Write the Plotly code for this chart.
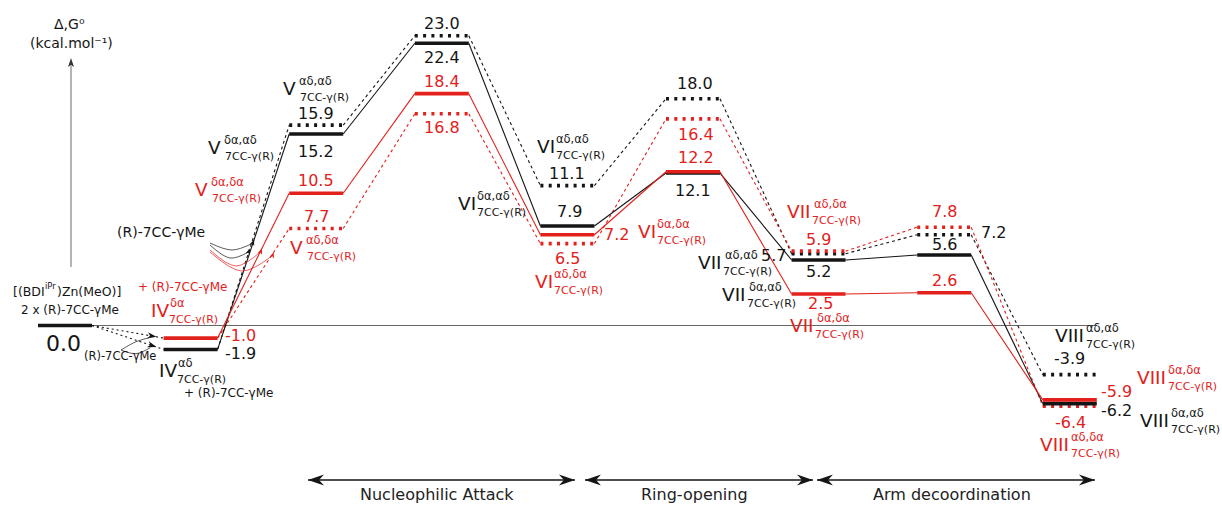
import math
import plotly.graph_objects as go

# ---------------- data (kcal/mol) ----------------
stage_names = ["start", "IV", "V", "TS-NA", "VI", "TS-RO", "VII", "TS-AD", "VIII"]
start_level = 0.0
black_solid = [-1.9, 15.2, 22.4, 7.9, 12.1, 5.2, 5.6, -6.2]
black_dotted = [-1.9, 15.9, 23.0, 11.1, 18.0, 5.7, 7.2, -3.9]
red_solid = [-1.0, 10.5, 18.4, 7.2, 12.2, 2.5, 2.6, -5.9]
red_dotted = [-1.0, 7.7, 16.8, 6.5, 16.4, 5.9, 7.8, -6.4]
phase_names = ["Nucleophilic Attack", "Ring-opening", "Arm decoordination"]

# ---------------- geometry / style ----------------
W, H = 1222, 505
X0, DX = 65.0, 125.6      # pixel centre of stage 0, pixels per stage
Y0, DY = 325.5, 12.6      # pixel row of 0 kcal/mol, pixels per kcal/mol
HWP = 27.0                # half width of a level bar (px)
HW = HWP / DX
BLACK = "#151515"
RED = "#e2211c"
FONT = "DejaVu Sans"


def X(px):
    return (px - X0) / DX


def Y(py):
    return (Y0 - py) / DY


def px_of(stage):
    return X0 + DX * stage


def py_of(e):
    return Y0 - DY * e


paths = {
    "black_dotted": (black_dotted, BLACK, True),
    "red_dotted": (red_dotted, RED, True),
    "black_solid": (black_solid, BLACK, False),
    "red_solid": (red_solid, RED, False),
}

fig = go.Figure()


def add_line(xs, ys, color, width, dash="solid", shape="linear"):
    fig.add_trace(go.Scatter(x=xs, y=ys, mode="lines",
                             line=dict(color=color, width=width, dash=dash, shape=shape),
                             hoverinfo="skip", showlegend=False))


def arrowhead(tip, tail, color, L=12.0, w=4.5, notch=3.5):
    """Filled concave arrowhead in pixel space, pointing from tail to tip."""
    dx, dy = tip[0] - tail[0], tip[1] - tail[1]
    n = math.hypot(dx, dy)
    ux, uy = dx / n, dy / n
    nx, ny = -uy, ux
    bx, by = tip[0] - L * ux, tip[1] - L * uy
    pts = [tip, (bx + w * nx, by + w * ny),
           (tip[0] - (L - notch) * ux, tip[1] - (L - notch) * uy),
           (bx - w * nx, by - w * ny), tip]
    fig.add_trace(go.Scatter(x=[X(p[0]) for p in pts], y=[Y(p[1]) for p in pts],
                             mode="lines", fill="toself", fillcolor=color,
                             line=dict(width=0, color=color),
                             hoverinfo="skip", showlegend=False))


# zero reference line
fig.add_shape(type="line", x0=0 - HW, x1=8 + HW, y0=0, y1=0,
              line=dict(color="#666666", width=1), layer="below")

# connectors between levels
for name, (vals, color, dotted) in paths.items():
    xs, ys = [], []
    for k in range(len(vals) - 1):
        i = k + 1
        xs += [i + HW, i + 1 - HW, None]
        ys += [vals[k], vals[k + 1], None]
    add_line(xs, ys, color, 1.1, dash="3px,3px" if dotted else "solid")

# start -> IV dotted arrows
ends_iv = sorted(set([red_solid[0], black_solid[0]]), reverse=True)
for e in ends_iv:
    add_line([0 + HW, 1 - HW], [start_level, e], BLACK, 1.1, dash="2px,3px")
    ax_, ay_ = px_of(0) + HWP, py_of(start_level)
    bx_, by_ = px_of(1) - HWP, py_of(e)
    t = 0.9
    tip = (ax_ + t * (bx_ - ax_), ay_ + t * (by_ - ay_))
    arrowhead(tip, (ax_, ay_), BLACK, L=9, w=3.2, notch=2.5)
    # curved arrow from the released monomer label
    add_line([X(121), X(136), X(tip[0] - 6)],
             [Y(350), Y(tip[1] + 3 + (by_ - ay_) * 0.15), Y(tip[1] + 0.5)],
             "#333333", 0.8, shape="spline")

# curved arrows joining the incoming monomer to the IV -> V branches
branch = [("black_solid", 0.51, 243, 250, BLACK), ("black_dotted", 0.45, 245, 258, BLACK),
          ("red_solid", 0.62, 250, 266, RED), ("red_dotted", 0.785, 252, 271, RED)]
for name, t, sy, dip, color in branch:
    vals = paths[name][0]
    a = (px_of(1) + HWP, py_of(vals[0]))
    b = (px_of(2) - HWP, py_of(vals[1]))
    tip = (a[0] + t * (b[0] - a[0]), a[1] + t * (b[1] - a[1]))
    add_line([X(210), X((210 + tip[0]) / 2), X(tip[0] - 2)],
             [Y(sy), Y(dip), Y(tip[1] + 4)], color, 0.7, shape="spline")
    arrowhead(tip, (tip[0] - 3, tip[1] + 8), color, L=6, w=2.3, notch=1.5)

# level bars
fig.add_trace(go.Scatter(x=[0 - HW, 0 + HW], y=[start_level, start_level], mode="lines",
                         line=dict(color=BLACK, width=3.6), hoverinfo="skip", showlegend=False))
for name, (vals, color, dotted) in paths.items():
    xs, ys = [], []
    for k, e in enumerate(vals):
        if dotted and k == 0:
            continue
        i = k + 1
        xs += [i - HW, i + HW, None]
        ys += [e, e, None]
    add_line(xs, ys, color, 3.6, dash="3px,5.3px" if dotted else "solid")

# vertical energy arrow
add_line([X(71), X(71)], [Y(267), Y(66)], "#8c8c8c", 1.3)
arrowhead((71, 58), (71, 80), "#333333", L=9, w=3, notch=2)

# phase arrows
phase_bounds = [(1.935, 4.06), (4.14, 5.955), (5.987, 8.2)]
ARROW_Y = 480
annotations = []


def text_at(px, py, text, size, color=BLACK, xanchor="center"):
    annotations.append(dict(x=X(px), y=Y(py), text=text, showarrow=False,
                            font=dict(family=FONT, size=size, color=color),
                            xanchor=xanchor, yanchor="middle", borderpad=0))


for (a, b), label in zip(phase_bounds, phase_names):
    pa, pb = px_of(a), px_of(b)
    add_line([a, b], [Y(ARROW_Y), Y(ARROW_Y)], BLACK, 1.3)
    arrowhead((pa, ARROW_Y), (pa + 20, ARROW_Y), BLACK, L=16, w=5.5, notch=5)
    arrowhead((pb, ARROW_Y), (pb - 20, ARROW_Y), BLACK, L=16, w=5.5, notch=5)
    text_at((pa + pb) / 2 - 4, 494, label, 16, "#222222")

# value labels: (path, stage, side, dx px, dy px)
value_labels = [
    ("red_solid", 1, "r", 6, -3), ("black_solid", 1, "r", 6, 4),
    ("black_dotted", 2, "c", 0, -12), ("black_solid", 2, "c", 0, 18),
    ("red_solid", 2, "c", 0, -13), ("red_dotted", 2, "c", 0, -11.5),
    ("black_dotted", 3, "c", 0, -12.7), ("black_solid", 3, "c", 0, 14.7),
    ("red_solid", 3, "c", 0, -11.7), ("red_dotted", 3, "c", 0, 14),
    ("black_dotted", 4, "c", 0, -12.6), ("black_solid", 4, "c", 2, -14),
    ("red_dotted", 4, "c", 0, 14.4), ("red_solid", 4, "r", 9, 0),
    ("black_dotted", 5, "c", 2, -15.7), ("red_dotted", 5, "c", 3, 16),
    ("red_solid", 5, "c", 3, -13.8), ("black_solid", 5, "c", 0, 17),
    ("red_dotted", 6, "c", 0, -12), ("black_dotted", 6, "l", -5, 2),
    ("black_solid", 6, "c", 0, 12), ("red_solid", 6, "c", 2, 9.5),
    ("red_dotted", 7, "c", 0, -16), ("black_dotted", 7, "r", 9, -2),
    ("black_solid", 7, "c", 0, -10), ("red_solid", 7, "c", 0, -12.7),
    ("black_dotted", 8, "c", 0, -16.6), ("red_solid", 8, "r", 3, -8),
    ("black_solid", 8, "r", 3, 6.4), ("red_dotted", 8, "c", 1, 16),
]
for name, stage, side, dxp, dyp in value_labels:
    vals, color, _ = paths[name]
    e = vals[stage - 1]
    if side == "c":
        cx, anchor = px_of(stage) + dxp, "center"
    elif side == "r":
        cx, anchor = px_of(stage) + HWP + dxp, "left"
    else:
        cx, anchor = px_of(stage) - HWP + dxp, "right"
    text_at(cx, py_of(e) + dyp, f"{e:.1f}", 16, color, anchor)

text_at(px_of(0) - 2, py_of(start_level) + 18, f"{start_level:.1f}", 22)

# species names: numeral, superscript, colour, left px, centre row px
species = [
    ("V", "αδ,αδ", BLACK, 282, 88), ("V", "δα,αδ", BLACK, 207, 147),
    ("V", "δα,δα", RED, 194, 189), ("V", "αδ,δα", RED, 289, 247),
    ("IV", "δα", RED, 150, 310), ("IV", "αδ", BLACK, 158, 370),
    ("VI", "δα,αδ", BLACK, 457, 203), ("VI", "αδ,αδ", BLACK, 536, 146),
    ("VI", "δα,δα", RED, 637, 231), ("VI", "αδ,δα", RED, 534, 281),
    ("VII", "αδ,δα", RED, 786, 211), ("VII", "αδ,αδ", BLACK, 697, 262),
    ("VII", "δα,αδ", BLACK, 721, 294), ("VII", "δα,δα", RED, 789, 325),
    ("VIII", "αδ,αδ", BLACK, 1054, 335), ("VIII", "δα,δα", RED, 1136, 377),
    ("VIII", "δα,αδ", BLACK, 1139, 420), ("VIII", "αδ,δα", RED, 1039, 444),
]
SUP_DX = {"IV": 19, "V": 16, "VI": 19, "VII": 27, "VIII": 31}
SUB_DX = {"IV": 18, "V": 17, "VI": 19, "VII": 25, "VIII": 31}
for numeral, sup, color, left, cy in species:
    text_at(left, cy, numeral, 18.5, color, "left")
    text_at(left + SUP_DX[numeral], cy - 7, sup, 11.5, color, "left")
    text_at(left + SUB_DX[numeral], cy + 9, "7CC-γ(R)", 11, color, "left")

# other captions
text_at(69, 24, "Δ,G⁰", 14)
text_at(71, 43, "(kcal.mol⁻¹)", 14)
text_at(12, 291, "[(BDI", 12.5, BLACK, "left")
text_at(44, 286, "iPr", 8.5, BLACK, "left")
text_at(56, 291, ")Zn(MeO)]", 12.5, BLACK, "left")
text_at(70, 310, "2 x (R)-7CC-γMe", 12)
text_at(120, 356, "(R)-7CC-γMe", 11.5)
text_at(161, 232, "(R)-7CC-γMe", 14)
text_at(182, 287, "+ (R)-7CC-γMe", 12, RED)
text_at(228, 393, "+ (R)-7CC-γMe", 12)

fig.update_layout(
    width=W, height=H,
    margin=dict(l=0, r=0, t=0, b=0),
    paper_bgcolor="white", plot_bgcolor="white",
    xaxis=dict(range=[X(0), X(W)], visible=False, fixedrange=True),
    yaxis=dict(range=[Y(H), Y(0)], visible=False, fixedrange=True),
    annotations=annotations,
    showlegend=False,
)

fig.write_html("out.html")
